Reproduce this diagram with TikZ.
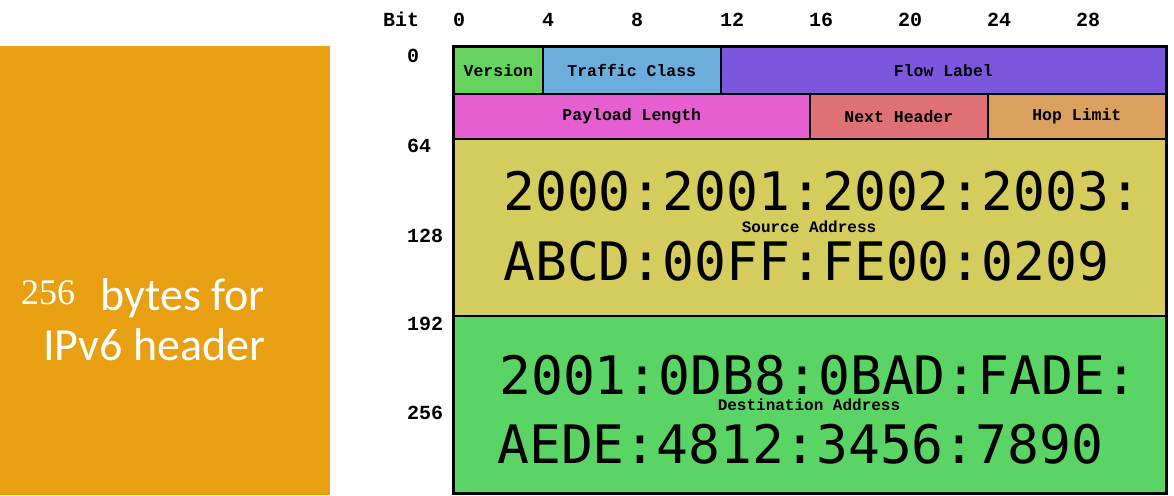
\documentclass[tikz,border=0pt]{standalone}
\usepackage{fontspec}
\setmainfont{Liberation Serif}
\newfontfamily\monof{Liberation Mono}
\newfontfamily\addrf{DejaVu Sans Mono}
\newfontfamily\calf{Carlito}
\definecolor{orangebg}{HTML}{E89F12}
\definecolor{cversion}{HTML}{66D35E}
\definecolor{ctraffic}{HTML}{6BAEDD}
\definecolor{cflow}{HTML}{7B57DE}
\definecolor{cpayload}{HTML}{E55FD0}
\definecolor{cnext}{HTML}{DE7176}
\definecolor{chop}{HTML}{D9A060}
\definecolor{csource}{HTML}{D4CD5E}
\definecolor{cdest}{HTML}{5AD464}
\tikzset{
  field/.style={draw=black, line width=1.6pt, inner sep=0pt, anchor=north west,
    font=\monof\bfseries\fontsize{16.5}{17}\selectfont},
  bitlbl/.style={anchor=base west, inner sep=0pt, font=\monof\bfseries\fontsize{20}{20}\selectfont},
  addr/.style={anchor=base west, inner sep=0pt, font=\addrf\fontsize{53}{53}\selectfont},
  sublbl/.style={inner sep=0pt, font=\monof\bfseries\fontsize{16}{16}\selectfont},
  big/.style={anchor=base west, inner sep=0pt, text=white, font=\calf\fontsize{46}{46}\selectfont}
}
\begin{document}
\begin{tikzpicture}[x=1pt,y=-1pt]
\useasboundingbox (0,0) rectangle (1174,495);
\fill[white] (0,0) rectangle (1174,495);
% left orange panel
\node[fill=orangebg, minimum width=330pt, minimum height=449pt, inner sep=0pt, anchor=north west] (panel) at (0,46) {};
\node[anchor=base west, inner sep=0pt, text=white, font=\fontsize{36}{36}\selectfont] (num) at (21,304) {256};
\node[big] (l1) at (100,310) {bytes for};
\node[big] (l2) at (43,360) {IPv6 header};
% bit ruler
\node[bitlbl] (bit) at (383,27) {Bit};
\foreach \i/\lab in {0/0,1/4,2/8,3/12,4/16,5/20,6/24,7/28}{
  \node[bitlbl] (b\i) at ({453+89*\i},27) {\lab};
}
% row labels
\node[bitlbl] (r0) at (407,63) {0};
\node[bitlbl] (r64) at (407,152) {64};
\node[bitlbl] (r128) at (407,242) {128};
\node[bitlbl] (r192) at (407,330) {192};
\node[bitlbl] (r256) at (407,419) {256};
% row 1
\node[field, fill=cversion, minimum width=89pt, minimum height=47pt] (version) at (453,46) {Version};
\node[field, fill=ctraffic, minimum width=178pt, minimum height=47pt] (traffic) at (542,46) {Traffic Class};
\node[field, fill=cflow, minimum width=445pt, minimum height=47pt] (flow) at (720,46) {Flow Label};
% row 2
\node[field, fill=cpayload, minimum width=356pt, minimum height=45pt] (payload) at (453,93) {Payload Length};
\node[field, fill=cnext, minimum width=178pt, minimum height=45pt] (next) at (809,93) {Next Header};
\node[field, fill=chop, minimum width=178pt, minimum height=45pt] (hop) at (987,93) {Hop Limit};
% source
\node[field, fill=csource, minimum width=712pt, minimum height=177pt] (source) at (453,138) {};
\node[addr] (s1) at (503,210) {2000:2001:2002:2003:};
\node[addr] (s2) at (503,280) {ABCD:00FF:FE00:0209};
\node[sublbl] (srclbl) at (809,227) {Source Address};
% destination
\node[field, fill=cdest, minimum width=712pt, minimum height=177pt] (dest) at (453,315) {};
\node[addr] (d1) at (499,394) {2001:0DB8:0BAD:FADE:};
\node[addr] (d2) at (497,463) {AEDE:4812:3456:7890};
\node[sublbl] (dstlbl) at (809,405) {Destination Address};
% outer border
\draw[line width=2.4pt] (version.north west) rectangle (dest.south east);
\end{tikzpicture}
\end{document}
